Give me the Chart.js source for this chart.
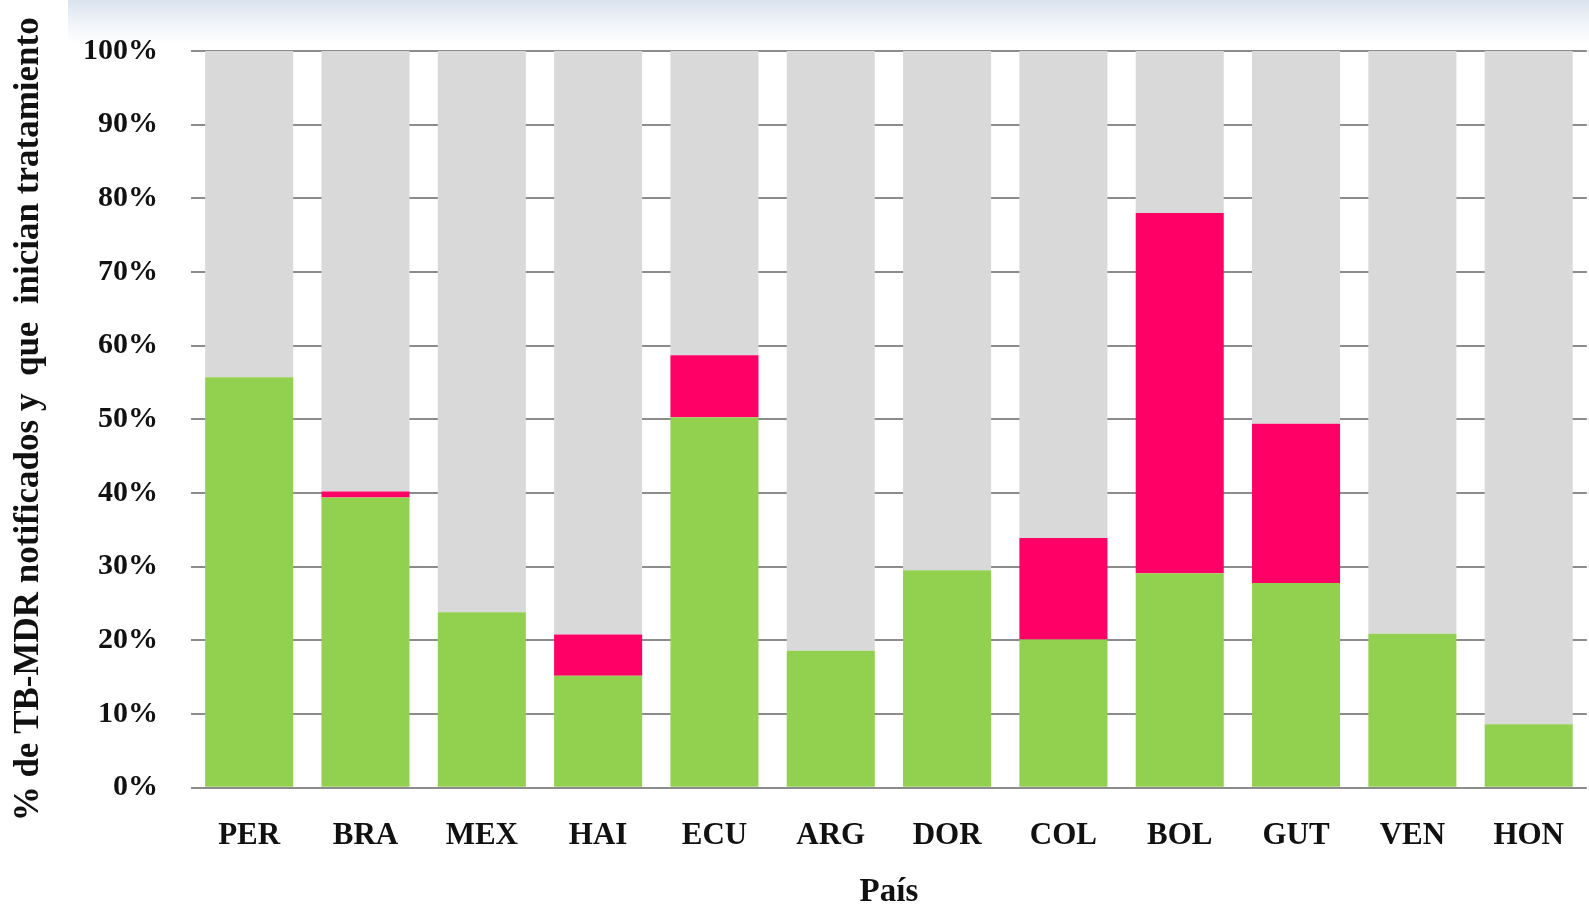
<!DOCTYPE html>
<html>
<head>
<meta charset="utf-8">
<script src="https://cdn.jsdelivr.net/npm/chart.js@4.4.0/dist/chart.umd.min.js"></script>
<style>
  html, body { margin: 0; padding: 0; background: #ffffff; }
  #wrap { position: relative; width: 1589px; height: 905px; }
  #band {
    position: absolute; left: 68px; top: 0; width: 1521px; height: 44px;
    background: linear-gradient(to bottom, #d9e3ee 0%, #eef2f7 45%, #ffffff 100%);
  }
  #tbChart { position: absolute; left: 0; top: 0; }
</style>
</head>
<body>
<div id="wrap">
  <div id="band"></div>
  <canvas id="tbChart" width="1589" height="905"></canvas>
</div>
<script>
// country codes on the x axis
const paises = ['PER', 'BRA', 'MEX', 'HAI', 'ECU', 'ARG', 'DOR', 'COL', 'BOL', 'GUT', 'VEN', 'HON'];

// green part of each bar (%)
const inicianTratamiento = [55.7, 39.4, 23.8, 15.2, 50.3, 18.6, 29.5, 20.1, 29.1, 27.8, 20.9, 8.6];

// pink part stacked on top of the green (%)
const adicional = [0, 0.8, 0, 5.6, 8.4, 0, 0, 13.8, 48.9, 21.6, 0, 0];

// grey remainder up to 100%
const resto = paises.map((_, i) => +(100 - inicianTratamiento[i] - adicional[i]).toFixed(1));

const fuente = '"Liberation Serif", "DejaVu Serif", serif';

function createTbChart() {
    const ctx = document.getElementById('tbChart').getContext('2d');

    new Chart(ctx, {
        type: 'bar',
        data: {
            labels: paises,
            datasets: [
                { label: 'Inician tratamiento', data: inicianTratamiento, backgroundColor: '#92D050' },
                { label: 'Adicional', data: adicional, backgroundColor: '#FF0066' },
                { label: 'Resto', data: resto, backgroundColor: '#D9D9D9' }
            ]
        },
        options: {
            responsive: false,
            animation: false,
            barPercentage: 0.757,
            categoryPercentage: 1.0,
            layout: { padding: { top: 22, right: 0, bottom: 0, left: 0 } },
            scales: {
                x: {
                    stacked: true,
                    grid: { display: false, drawTicks: false },
                    border: { display: false },
                    ticks: {
                        color: '#111',
                        padding: 25,
                        font: { family: fuente, size: 31, weight: 'bold', lineHeight: 1.52 }
                    },
                    title: {
                        display: true,
                        text: 'País',
                        color: '#111',
                        padding: { top: 1, bottom: 6 },
                        font: { family: fuente, size: 33, weight: 'bold', lineHeight: 0.4 }
                    }
                },
                y: {
                    stacked: true,
                    min: 0,
                    max: 100,
                    grid: { color: '#8c8c8c', lineWidth: 2, drawTicks: false },
                    border: { display: false },
                    ticks: {
                        stepSize: 10,
                        color: '#111',
                        padding: 33,
                        font: { family: fuente, size: 30, weight: 'bold' },
                        callback: v => v + '%'
                    },
                    title: {
                        display: true,
                        text: '% de TB-MDR notificados y  que  inician tratamiento',
                        color: '#111',
                        padding: { top: 8, bottom: 0 },
                        font: { family: fuente, size: 35, weight: 'bold' }
                    }
                }
            },
            plugins: {
                legend: { display: false },
                tooltip: { enabled: false }
            }
        }
    });
}

window.onload = function() {
    createTbChart();
};
</script>
</body>
</html>
